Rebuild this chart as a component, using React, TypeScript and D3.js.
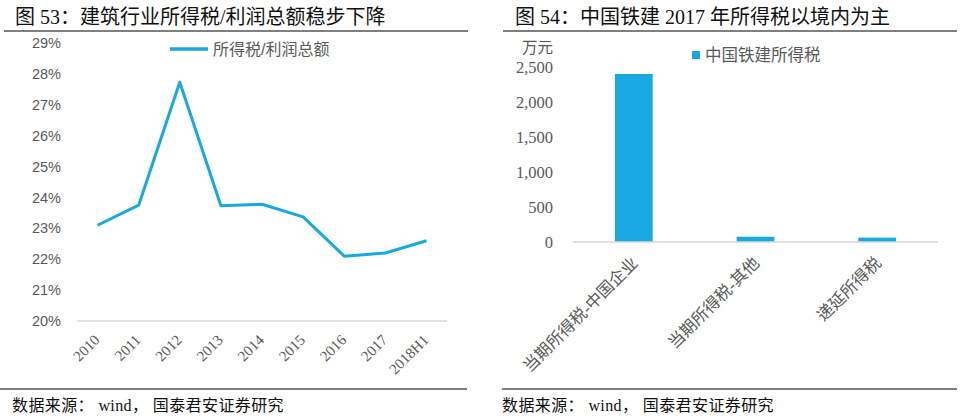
import React from 'react';
import * as d3 from 'd3';

// left chart: 所得税/利润总额
const years = ['2010', '2011', '2012', '2013', '2014', '2015', '2016', '2017', '2018H1'];
const taxRatio = [23.1, 23.75, 27.73, 23.73, 23.78, 23.37, 22.1, 22.2, 22.6];
const ratioTicks = [20, 21, 22, 23, 24, 25, 26, 27, 28, 29];

// right chart: 中国铁建所得税 (万元)
const taxItems = ['当期所得税-中国企业', '当期所得税-其他', '递延所得税'];
const taxValues = [2400, 75, 62];
const amountTicks = [0, 500, 1000, 1500, 2000, 2500];

const BLUE = '#18a9e0';
const GREY = '#595959';
const SERIF = '"Liberation Serif", "Noto Sans CJK SC", serif';
const CJK = '"Liberation Serif", "Noto Sans CJK SC", sans-serif';
const SANS = '"Liberation Sans", "Noto Sans CJK SC", sans-serif';

const App: React.FC = () => {
  // left scales
  const x1 = d3.scaleBand<string>().domain(years).range([77, 447]);
  const y1 = d3.scaleLinear().domain([20, 29]).range([321, 43]);
  const line = d3.line<number>()
    .x((_, i) => (x1(years[i]) as number) + x1.bandwidth() / 2)
    .y(d => y1(d));

  // right scales
  const x2 = d3.scaleBand<string>().domain(taxItems).range([573, 938]).paddingInner(0.69).paddingOuter(0.345);
  const y2 = d3.scaleLinear().domain([0, 2500]).range([242, 67]);
  const fmt = d3.format(',');

  return (
    <svg width={960} height={419} style={{ position: 'absolute', left: 0, top: 0, background: '#fff' }}>
      {/* left panel */}
      <text x={15} y={24} fontFamily={CJK} fontSize={20} fill="#111">图 53：建筑行业所得税/利润总额稳步下降</text>
      <line x1={4} x2={468} y1={31} y2={31} stroke="#000" strokeWidth={1.2} />

      {ratioTicks.map(t => (
        <text key={t} x={61} y={y1(t)} dy="0.35em" textAnchor="end" fontFamily={SANS} fontSize={14.5} fill={GREY}>{t}%</text>
      ))}
      <line x1={77} x2={447} y1={y1(20)} y2={y1(20)} stroke="#d9d9d9" strokeWidth={1.5} />
      {years.map(yr => {
        const cx = (x1(yr) as number) + x1.bandwidth() / 2;
        return (
          <text key={yr} transform={`translate(${cx + 3},${341}) rotate(-45)`} textAnchor="end"
            fontFamily={SERIF} fontSize={15} fill={GREY}>{yr}</text>
        );
      })}
      <path d={line(taxRatio) || ''} fill="none" stroke={BLUE} strokeWidth={3} strokeLinejoin="round" />

      <line x1={170} x2={208} y1={49} y2={49} stroke={BLUE} strokeWidth={3.5} />
      <text x={213} y={49} dy="0.35em" fontFamily={SANS} fontSize={16} fill={GREY}>所得税/利润总额</text>

      <line x1={0} x2={467} y1={389} y2={389} stroke="#000" strokeWidth={1.2} />
      <text x={12} y={411} fontFamily={CJK} fontSize={16} letterSpacing={0.4} fill="#111">数据来源： wind， 国泰君安证券研究</text>

      {/* right panel */}
      <text x={515} y={24} fontFamily={CJK} fontSize={20} fill="#111">图 54：中国铁建 2017 年所得税以境内为主</text>
      <line x1={503} x2={957} y1={31} y2={31} stroke="#000" strokeWidth={1.2} />

      <text x={553} y={48} dy="0.35em" textAnchor="end" fontFamily={CJK} fontSize={15.5} fill={GREY}>万元</text>
      {amountTicks.map(t => (
        <text key={t} x={553} y={y2(t)} dy="0.35em" textAnchor="end" fontFamily={SERIF} fontSize={16.5} fill={GREY}>{fmt(t)}</text>
      ))}
      {taxItems.map((c, i) => (
        <rect key={c} x={x2(c)} y={y2(taxValues[i])} width={x2.bandwidth()} height={y2(0) - y2(taxValues[i])} fill={BLUE} />
      ))}
      <line x1={573} x2={938} y1={y2(0)} y2={y2(0)} stroke="#d9d9d9" strokeWidth={1.5} />
      {taxItems.map(c => {
        const cx = (x2(c) as number) + x2.bandwidth() / 2;
        return (
          <text key={c} transform={`translate(${cx + 5},${264}) rotate(-45)`} textAnchor="end"
            fontFamily={CJK} fontSize={16.5} fill={GREY}>{c}</text>
        );
      })}

      <rect x={692} y={51} width={8} height={8} fill={BLUE} />
      <text x={705} y={55} dy="0.35em" fontFamily={CJK} fontSize={16.5} fill={GREY}>中国铁建所得税</text>

      <line x1={502} x2={957} y1={389} y2={389} stroke="#000" strokeWidth={1.2} />
      <text x={502} y={411} fontFamily={CJK} fontSize={16} letterSpacing={0.4} fill="#111">数据来源： wind， 国泰君安证券研究</text>
    </svg>
  );
};

export default App;
